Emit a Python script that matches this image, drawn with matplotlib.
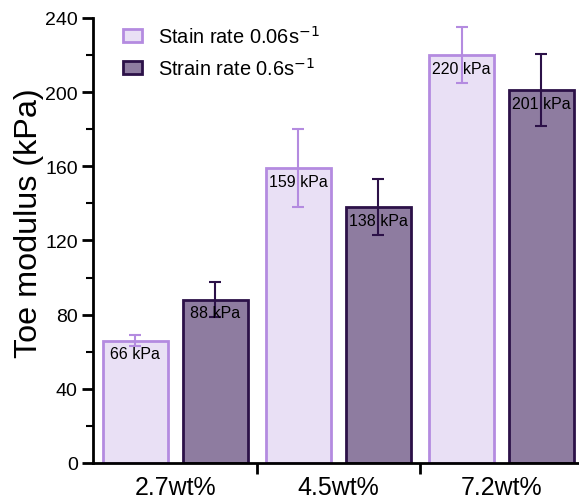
import numpy as np
import matplotlib
matplotlib.use('Agg')
from matplotlib import pyplot as plt
from matplotlib.ticker import MultipleLocator

plt.rcParams['font.family'] = ['Liberation Sans', 'DejaVu Sans']

groups = ['2.7wt%', '4.5wt%', '7.2wt%']
slow_vals = [66, 159, 220]
slow_err = [3, 21, 15]
fast_vals = [88, 138, 201]
fast_err = [9.5, 15, 19.5]

light_fill, light_edge = '#e9e0f5', '#b48be0'
dark_fill, dark_edge = '#8e7ca0', '#2c1148'

fig = plt.figure(figsize=(5.79, 5.02), dpi=100)
ax = fig.add_axes([0.1606, 0.0757, 0.8394, 0.8865])

x = np.arange(len(groups))
w = 0.4
off = 0.245

for xs, vals, errs, fc, ec, lab in [
        (x - off, slow_vals, slow_err, light_fill, light_edge, 'Stain rate 0.06s$^{-1}$'),
        (x + off, fast_vals, fast_err, dark_fill, dark_edge, 'Strain rate 0.6s$^{-1}$')]:
    ax.bar(xs, vals, w, color=fc, edgecolor=ec, linewidth=2, label=lab, zorder=2)
    ax.errorbar(xs, vals, yerr=errs, fmt='none', ecolor=ec, elinewidth=1.5,
                capsize=4, capthick=1.5, zorder=3)
    for xi, v in zip(xs, vals):
        ax.annotate(f'{v} kPa', (xi, v), xytext=(0, -4), textcoords='offset points',
                    ha='center', va='top', fontsize=11.5, zorder=4)

ax.set_xlim(-0.505, 2.475)
ax.set_ylim(0, 240)
ax.yaxis.set_major_locator(MultipleLocator(40))
ax.yaxis.set_minor_locator(MultipleLocator(20))
ax.set_xticks([0.5, 1.5])
ax.set_xticklabels([])
ax.set_xticks(x, minor=True)
ax.set_xticklabels(groups, minor=True, fontsize=18)
ax.tick_params(axis='x', which='minor', length=0, pad=9)
ax.tick_params(axis='x', which='major', length=8, width=2)
ax.tick_params(axis='y', which='major', length=8, width=2, labelsize=14, pad=3)
ax.tick_params(axis='y', which='minor', length=5, width=1.5)
ax.set_ylabel('Toe modulus (kPa)', fontsize=23.3)
ax.yaxis.set_label_coords(-0.1, 0.54)

for s in ['top', 'right']:
    ax.spines[s].set_visible(False)
for s in ['left', 'bottom']:
    ax.spines[s].set_linewidth(2)

ax.legend(loc='upper left', bbox_to_anchor=(0.025, 1.025), frameon=False, fontsize=14.4,
          handlelength=0.95, handleheight=0.6, handletextpad=0.8, labelspacing=0.5)

fig.savefig('out.png', dpi=100)
